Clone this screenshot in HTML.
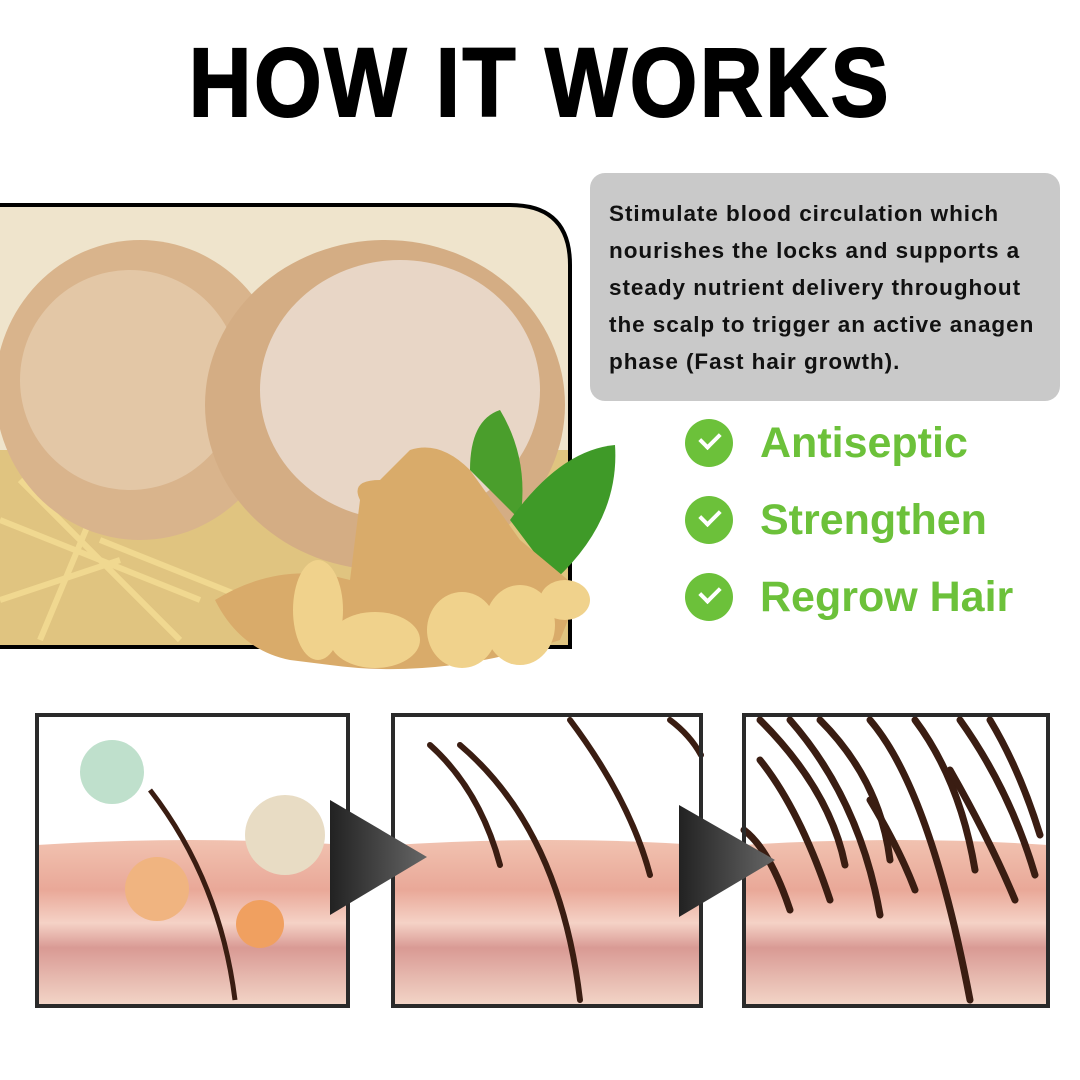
<!DOCTYPE html>
<html><head><meta charset="utf-8"><style>
body{margin:0;width:1080px;height:1080px;background:#fff;position:relative;overflow:hidden;font-family:"Liberation Sans",Arial,sans-serif}
h1{position:absolute;top:27px;left:0;width:1080px;text-align:center;margin:0;font-size:97px;font-weight:900;letter-spacing:3px;color:#000;transform:scaleX(0.895);-webkit-text-stroke:2px #000}
.gray{position:absolute;left:590px;top:173px;width:470px;height:228px;background:#c9c9c9;border-radius:15px}
.gray p{margin:0;position:absolute;left:19px;top:22px;font-size:22.5px;font-weight:bold;line-height:37px;color:#111;width:445px;letter-spacing:0.95px}
.item{position:absolute;left:685px;height:50px;display:flex;align-items:center}
.chk{width:48px;height:48px;border-radius:50%;background:#6cc13a;position:relative}
.chk:after{content:"";position:absolute;left:15px;top:13px;width:16px;height:9px;border-left:4px solid #fff;border-bottom:4px solid #fff;transform:rotate(-45deg)}
.item span{margin-left:27px;font-size:43px;font-weight:bold;color:#6cc13a}
</style></head><body>
<h1>HOW IT WORKS</h1>
<svg width="1080" height="1080" style="position:absolute;left:0;top:0">
<defs>
<clipPath id="c1"><path d="M0 205 H510 Q570 205 570 265 V647 H0Z"/></clipPath>
<linearGradient id="sk" x1="0" y1="0" x2="0" y2="1"><stop offset="0" stop-color="#f1c2b0"/><stop offset="0.3" stop-color="#e9a898"/><stop offset="0.5" stop-color="#f5d2c6"/><stop offset="0.65" stop-color="#d99a94"/><stop offset="1" stop-color="#f3d6c8"/></linearGradient>
<linearGradient id="ar" x1="0" y1="0" x2="1" y2="0"><stop offset="0" stop-color="#222"/><stop offset="1" stop-color="#666"/></linearGradient>
</defs>
<g clip-path="url(#c1)">
<rect x="0" y="205" width="570" height="442" fill="#efe4cc"/>
<rect x="0" y="450" width="570" height="200" fill="#e0c480"/>
<path d="M0 520 L200 600 M20 480 L180 640 M100 540 L250 600 M0 600 L120 560 M40 640 L90 520" stroke="#f0d890" stroke-width="6"/>
<ellipse cx="140" cy="390" rx="145" ry="150" fill="#d9b48c"/>
<ellipse cx="130" cy="380" rx="110" ry="110" fill="#e3c7a6"/>
<ellipse cx="385" cy="405" rx="180" ry="165" fill="#d4ad84"/>
<ellipse cx="400" cy="390" rx="140" ry="130" fill="#e8d6c6"/>
</g>
<path d="M0 205 H510 Q570 205 570 265 V647 H0" fill="none" stroke="#000" stroke-width="4"/>
<path d="M470 470 Q470 420 500 410 Q530 460 520 520Z" fill="#4a9e2c"/>
<path d="M510 520 Q560 450 615 445 Q620 520 555 580Z" fill="#3f9a28"/>
<path d="M215 600 Q280 560 350 580 L360 500 Q350 480 380 480 L410 450 Q440 440 470 470 L520 540 L580 590 L560 640 Q440 680 330 665 L290 660 Q240 650 215 600Z" fill="#d9ab6a"/>
<ellipse cx="318" cy="610" rx="25" ry="50" fill="#f0d28c"/>
<ellipse cx="375" cy="640" rx="45" ry="28" fill="#f0d28c"/>
<ellipse cx="462" cy="630" rx="35" ry="38" fill="#f0d28c"/>
<ellipse cx="520" cy="625" rx="35" ry="40" fill="#f0d28c"/>
<ellipse cx="565" cy="600" rx="25" ry="20" fill="#f0d28c"/>
<g>
<rect x="37" y="715" width="311" height="291" fill="#fff"/>
<path d="M37 845 Q190 835 348 845 V1006 H37Z" fill="url(#sk)"/>
<path d="M150 790 Q220 880 235 1000" stroke="#3a1d12" stroke-width="5" fill="none"/>
<circle cx="112" cy="772" r="32" fill="#bfe0cc"/><circle cx="285" cy="835" r="40" fill="#e8dcc4"/>
<circle cx="157" cy="889" r="32" fill="#f0b480"/><circle cx="260" cy="924" r="24" fill="#f0a060"/>
<rect x="37" y="715" width="311" height="291" fill="none" stroke="#2a2a2a" stroke-width="4"/>
</g>
<g>
<rect x="393" y="715" width="308" height="291" fill="#fff"/>
<path d="M393 845 Q550 835 701 845 V1006 H393Z" fill="url(#sk)"/>
<path d="M430 745 Q480 790 500 865 M460 745 Q560 830 580 1000 M570 720 Q630 800 650 875 M670 720 Q690 735 701 755" stroke="#3a1d12" stroke-width="6" fill="none" stroke-linecap="round"/>
<rect x="393" y="715" width="308" height="291" fill="none" stroke="#2a2a2a" stroke-width="4"/>
</g>
<g>
<rect x="744" y="715" width="304" height="291" fill="#fff"/>
<path d="M744 845 Q900 835 1048 845 V1006 H744Z" fill="url(#sk)"/>
<g stroke="#3a1d12" stroke-width="7" fill="none" stroke-linecap="round">
<path d="M760 720 Q830 790 845 865"/><path d="M790 720 Q860 800 880 915"/><path d="M820 720 Q880 780 890 860"/>
<path d="M870 720 Q930 790 970 1000"/><path d="M915 720 Q960 780 975 870"/><path d="M960 720 Q1010 790 1035 875"/>
<path d="M990 720 Q1020 770 1040 835"/><path d="M760 760 Q800 810 830 900"/><path d="M744 830 Q770 850 790 910"/>
<path d="M870 800 Q900 850 915 890"/><path d="M950 770 Q990 840 1015 900"/>
</g>
<rect x="744" y="715" width="304" height="291" fill="none" stroke="#2a2a2a" stroke-width="4"/>
</g>
<path d="M330 800 L427 857 L330 915Z" fill="url(#ar)"/>
<path d="M679 805 L775 860 L679 917Z" fill="url(#ar)"/>
</svg>
<div class="gray"><p>Stimulate blood circulation which nourishes the locks and supports a steady nutrient delivery throughout the scalp to trigger an active anagen phase (Fast hair growth).</p></div>
<div class="item" style="top:418px"><div class="chk"></div><span>Antiseptic</span></div>
<div class="item" style="top:495px"><div class="chk"></div><span>Strengthen</span></div>
<div class="item" style="top:572px"><div class="chk"></div><span>Regrow Hair</span></div>
</body></html>
